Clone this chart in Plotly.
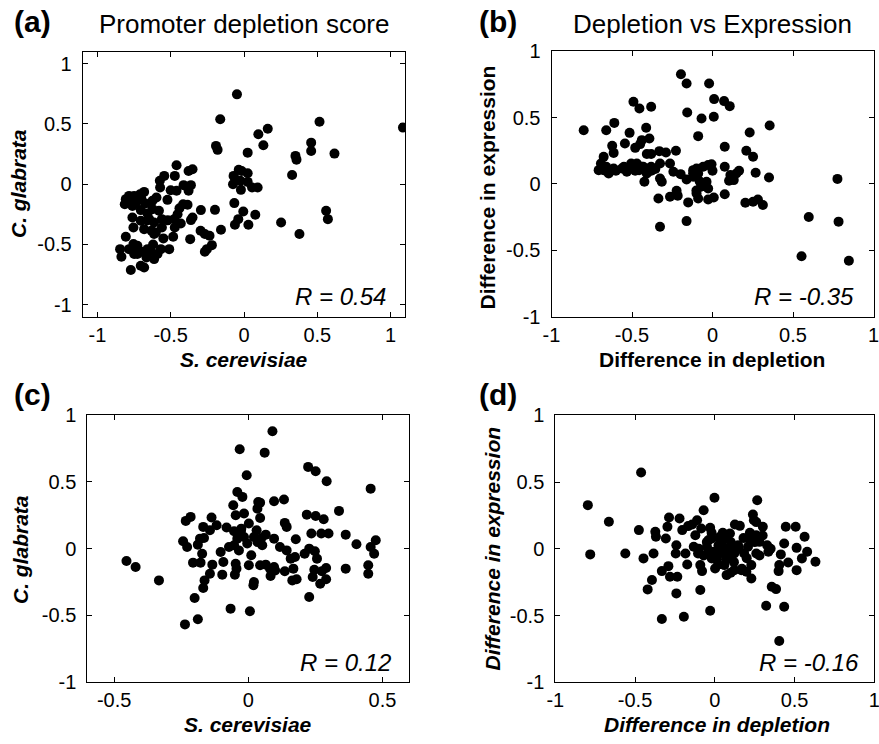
import plotly.graph_objects as go

W, H = 879, 744

# ---------------- data ----------------
a_x = [-0.048, -0.162, 0.515, 1.084, 0.162, 0.098, 0.132, -0.191, -0.180, 0.458, 0.458, 0.025, 0.617, 0.351,
       0.358, 0.328, -0.036, -0.016, 0.025, -0.071, -0.059, -0.025, 0.025, -0.075, -0.021, 0.055, 0.093, -0.066,
       -0.005, 0.077, -0.039, -0.062, 0.030, 0.253, 0.378, 0.560, 0.572, -0.157, -0.198, -0.460, -0.472, -0.544,
       -0.574, -0.412, -0.362, -0.351, -0.378, -0.378, -0.460, -0.522, -0.572, -0.597, -0.624, -0.681, -0.672,
       -0.624, -0.658, -0.704, -0.749, -0.784, -0.806, -0.813, -0.772, -0.761, -0.754, -0.704, -0.681, -0.613,
       -0.601, -0.613, -0.560, -0.560, -0.476, -0.472, -0.431, -0.453, -0.415, -0.385, -0.362, -0.351, -0.294,
       -0.296, -0.267, -0.235, -0.219, -0.253, -0.267, -0.367, -0.483, -0.510, -0.567, -0.590, -0.636, -0.658,
       -0.665, -0.613, -0.681, -0.704, -0.772, -0.749, -0.727, -0.754, -0.806, -0.845, -0.836, -0.784, -0.727,
       -0.727, -0.709, -0.647, -0.631, -0.761, -0.78, -0.74, -0.70, -0.66, -0.58, -0.52, -0.55, -0.70, -0.62,
       -0.44, -0.50]
a_y = [0.746, 0.539, 0.519, 0.47, 0.461, 0.414, 0.323, 0.318, 0.285, 0.345, 0.276, 0.262, 0.254, 0.235,
       0.204, 0.077, 0.119, 0.110, 0.091, 0.069, 0.041, 0.028, 0.019, 0.0, -0.047, -0.028, -0.028, -0.157,
       -0.227, -0.254, -0.290, -0.337, -0.337, -0.318, -0.414, -0.221, -0.290, -0.378, -0.213, 0.157, 0.069, 0.069,
       0.028, -0.008, -0.008, 0.124, 0.110, -0.055, -0.055, -0.130, -0.028, -0.110, -0.138, -0.064, -0.160,
       -0.207, -0.243, -0.215, -0.097, -0.097, -0.124, -0.166, -0.138, -0.276, -0.359, -0.304, -0.373, -0.318,
       -0.401, -0.414, -0.290, -0.359, -0.290, -0.359, -0.326, -0.249, -0.166, -0.171, -0.298, -0.276, -0.215,
       -0.387, -0.414, -0.428, -0.506, -0.539, -0.561, -0.456, -0.436, -0.539, -0.539, -0.580, -0.552, -0.539,
       -0.608, -0.622, -0.691, -0.677, -0.713, -0.580, -0.580, -0.497, -0.436, -0.539, -0.602, -0.539, -0.511,
       -0.138, -0.083, -0.290, -0.387, -0.180, -0.12, -0.16, -0.12, -0.30, -0.22, -0.30, -0.45, -0.56, -0.50,
       -0.20, -0.05]

b_x = [-0.800, -0.196, -0.161, -0.021, -0.491, -0.454, -0.381, -0.157, -0.068, 0.010, 0.072, 0.107, 0.008,
       -0.089, 0.355, 0.231, 0.076, 0.210, 0.252, -0.660, -0.610, -0.515, -0.412, -0.544, -0.623, -0.614, -0.449,
       -0.480, -0.392, -0.439, -0.408, -0.381, -0.330, -0.289, -0.227, -0.326, -0.264, -0.243, -0.676, -0.693,
       -0.707, -0.676, -0.645, -0.614, -0.563, -0.532, -0.501, -0.505, -0.470, -0.456, -0.439, -0.408, -0.423,
       -0.381, -0.355, -0.326, -0.315, -0.336, -0.326, -0.264, -0.223, -0.216, -0.198, -0.161, -0.151, -0.161,
       -0.120, -0.120, -0.099, -0.089, -0.058, -0.027, -0.006, 0.0, -0.099, -0.072, -0.037, -0.027, -0.089,
       -0.027, 0.008, 0.076, 0.076, 0.103, 0.111, 0.148, 0.165, 0.132, 0.204, 0.252, 0.282, 0.313, 0.268, 0.351,
       0.776, 0.598, 0.783, 0.553, 0.847, -0.66, -0.60, -0.55, -0.48, -0.43, -0.38, -0.12, -0.08, -0.10]
b_y = [0.405, 0.827, 0.757, 0.757, 0.619, 0.568, 0.581, 0.538, 0.493, 0.639, 0.624, 0.586, 0.506,
       0.360, 0.440, 0.388, 0.280, 0.250, 0.205, 0.405, 0.460, 0.385, 0.423, 0.305, 0.287, 0.234, 0.300,
       0.272, 0.343, 0.330, 0.225, 0.225, 0.247, 0.237, 0.250, 0.154, 0.154, 0.092, 0.204, 0.154,
       0.104, 0.104, 0.079, 0.117, 0.117, 0.092, 0.117, 0.154, 0.154, 0.104, 0.129, 0.079, 0.016,
       0.129, 0.112, 0.041, 0.016, -0.109, -0.322, -0.097, -0.051, -0.089, 0.074, 0.034, -0.139, -0.280,
       0.104, 0.054, 0.117, 0.079, 0.129, 0.142, 0.149, 0.099, -0.072, -0.021, 0.016, -0.034, -0.109,
       -0.117, -0.102, -0.077, 0.129, 0.024, 0.067, 0.079, 0.099, 0.029, -0.142, -0.134, -0.117, -0.159, 0.084, 0.049,
       0.038, -0.249, -0.284, -0.545, -0.578, 0.13, 0.10, 0.13, 0.10, 0.13, 0.10, 0.08, 0.02, -0.05]

c_x = [-0.454, -0.420, -0.333, -0.236, -0.188, -0.200, -0.066, 0.006, 0.090, -0.032, 0.061, -0.006, 0.223,
       0.251, 0.292, 0.456, -0.041, -0.022, -0.056, 0.037, 0.044, 0.034, 0.096, 0.133, 0.338, 0.218, 0.251,
       0.281, 0.044, -0.016, -0.047, -0.233, -0.215, -0.137, -0.118, -0.168, -0.143, -0.081, 0.002, 0.031,
       0.136, 0.143, 0.235, 0.272, 0.299, 0.363, 0.403, 0.475, 0.456, 0.469, 0.447, 0.447, 0.363, 0.177,
       -0.243, -0.228, -0.180, -0.165, -0.188, -0.172, -0.206, -0.178, -0.103, -0.072, -0.053, -0.041, -0.028,
       -0.016, -0.026, -0.053, -0.035, -0.004, 0.021, 0.034, 0.052, 0.065, 0.096, 0.118, 0.143, 0.158, 0.174,
       -0.134, -0.143, -0.163, -0.168, -0.097, -0.093, -0.047, -0.044, -0.050, 0.002, 0.011, 0.021, 0.019,
       0.044, 0.065, 0.081, 0.096, 0.100, 0.083, 0.136, 0.168, 0.164, 0.180, 0.210, 0.227, 0.248, 0.256,
       0.246, 0.240, 0.268, 0.290, 0.290, 0.274, 0.227, 0.049]
c_y = [-0.093, -0.138, -0.238, -0.568, -0.530, -0.370, -0.450, -0.470, 0.880, 0.745, 0.720, 0.550, 0.613,
       0.580, 0.505, 0.450, 0.425, 0.388, 0.325, 0.350, 0.345, 0.300, 0.355, 0.368, 0.283, 0.255, 0.245,
       0.220, 0.230, 0.263, 0.250, 0.208, 0.238, 0.233, 0.175, 0.163, 0.138, 0.158, 0.188, 0.138,
       0.193, 0.163, 0.113, 0.113, 0.113, 0.105, 0.033, 0.063, 0.013, -0.038, -0.125, -0.188, -0.150, 0.070,
       0.055, 0.013, 0.075, 0.080, 0.030, -0.038, -0.105, -0.105, -0.025, 0.013, 0.025, 0.075, 0.130,
       0.088, 0.150, 0.130, -0.013, 0.038, 0.088, 0.050, 0.025, 0.105, 0.075, 0.013, -0.013, -0.075, -0.063,
       -0.120, -0.188, -0.238, -0.295, -0.195, -0.100, -0.113, -0.150, -0.195, -0.125, -0.050, -0.250, -0.275,
       -0.125, -0.120, -0.150, -0.138, -0.163, -0.205, -0.170, -0.150, -0.238, -0.230, -0.038, 0.000, -0.020, -0.075,
       -0.158, -0.213, -0.263, -0.145, -0.230, -0.170, -0.363, 0.080]

d_x = [-0.796, -0.781, -0.664, -0.561, -0.462, -0.476, -0.447, -0.384, -0.373, -0.369, -0.394, -0.421, -0.332,
       -0.332, -0.287, -0.297, -0.307, -0.291, -0.281, -0.235, -0.241, -0.241, -0.245, -0.221, -0.204, -0.194,
       -0.184, -0.173, -0.167, -0.142, -0.111, -0.122, -0.132, -0.105, -0.070, -0.080, -0.091, -0.029, -0.085,
       -0.091, -0.049, -0.029, -0.002, -0.019, -0.039, -0.008, 0.023, 0.012, 0.033, 0.054, 0.060, 0.074, 0.095,
       0.105, 0.122, 0.126, 0.157, 0.146, 0.122, 0.167, 0.184, 0.208, 0.219, 0.198, 0.229, 0.229, 0.245, 0.239,
       0.266, 0.260, 0.280, 0.301, 0.260, 0.328, 0.336, 0.357, 0.384, 0.322, 0.414, 0.404, 0.400, 0.435, 0.445,
       0.507, 0.435, 0.404, 0.460, 0.513, 0.513, 0.563, 0.546, 0.579, 0.631, 0.002, 0.043, 0.085, -0.039, 0.064,
       -0.019, -0.05, 0.0, 0.03, 0.07, 0.10, 0.12, 0.15, 0.18, 0.20, -0.02, 0.05, 0.08, -0.07, 0.25, 0.28,
       0.30, 0.17, 0.10, -0.10, 0.02, 0.22, 0.26, 0.35, 0.04]
d_y = [0.327, -0.042, 0.202, -0.035, 0.571, 0.140, -0.072, -0.035, 0.127, 0.090, -0.234, -0.304, -0.167,
       -0.526, 0.234, 0.165, 0.077, -0.130, -0.209, -0.209, -0.334, 0.027, -0.035, 0.227, 0.140, -0.509,
       -0.035, -0.117, 0.170, 0.182, 0.214, 0.102, 0.015, -0.035, 0.289, -0.167, -0.309, -0.464, 0.152,
       -0.122, 0.015, 0.157, 0.382, 0.077, -0.035, -0.022, 0.027, -0.072, 0.090, -0.035, -0.122, -0.197, 0.115,
       0.027, -0.035, 0.182, 0.172, 0.027, -0.160, -0.160, -0.035, 0.015, 0.077, -0.172, -0.222, -0.122, 0.214, 0.257,
       0.364, 0.102, 0.052, 0.165, -0.035, 0.027, -0.022, -0.284, -0.302, -0.426, -0.042, -0.122, -0.167, 0.040, 0.165,
       0.165, -0.434, -0.691, -0.102, 0.007, -0.160, 0.090, -0.072, -0.022, -0.097, -0.147, 0.027, -0.060, 0.065, 0.077,
       -0.072, 0.05, -0.05, 0.08, -0.08, 0.05, -0.10, 0.0, 0.08, -0.07, 0.12, 0.12, 0.0, -0.05, 0.05, -0.05,
       0.10, -0.15, -0.18, 0.0, -0.12, 0.12, 0.20, 0.0, 0.0]

ticks_full = [-1, -0.5, 0, 0.5, 1]
ticks_full_text = ["-1", "-0.5", "0", "0.5", "1"]
ticks_half = [-0.5, 0, 0.5]
ticks_half_text = ["-0.5", "0", "0.5"]

titles = ["Promoter depletion score", "Depletion vs Expression"]
panel_labels = ["(a)", "(b)", "(c)", "(d)"]
r_texts = ["R = 0.54", "R = -0.35", "R = 0.12", "R = -0.16"]

# ---------------- layout helpers ----------------
FONT = "Liberation Sans, Arial, Helvetica, sans-serif"


def px_dom(x0, x1):
    return [x0 / W, x1 / W]


def py_dom(top, bottom):
    return [1 - bottom / H, 1 - top / H]


fig = go.Figure()

panels = [
    dict(x=a_x, y=a_y, xa="x", ya="y", xd=px_dom(82.7, 405.3), yd=py_dom(51.7, 316.7),
         xr=[-1.1, 1.1], yr=[-1.1, 1.1], xt=(ticks_full, ticks_full_text)),
    dict(x=b_x, y=b_y, xa="x2", ya="y2", xd=px_dom(551.5, 873.5), yd=py_dom(51.2, 316.7),
         xr=[-1, 1], yr=[-1, 1], xt=(ticks_full, ticks_full_text)),
    dict(x=c_x, y=c_y, xa="x3", ya="y3", xd=px_dom(87.3, 409.3), yd=py_dom(415.3, 682),
         xr=[-0.6, 0.6], yr=[-1, 1], xt=(ticks_half, ticks_half_text)),
    dict(x=d_x, y=d_y, xa="x4", ya="y4", xd=px_dom(555.3, 874.3), yd=py_dom(415.3, 682.3),
         xr=[-1, 1], yr=[-1, 1], xt=(ticks_full, ticks_full_text)),
]

layout = dict(
    width=W, height=H, margin=dict(l=0, r=0, t=0, b=0, pad=0), autosize=False,
    paper_bgcolor="white", plot_bgcolor="white", showlegend=False,
    font=dict(family=FONT, color="black", size=20),
)

for i, p in enumerate(panels):
    fig.add_trace(go.Scatter(x=p["x"], y=p["y"], xaxis=p["xa"], yaxis=p["ya"], mode="markers",
                             marker=dict(color="black", size=10, line=dict(width=0)),
                             hoverinfo="skip"))
    suffix = "" if i == 0 else str(i + 1)
    common = dict(showgrid=False, zeroline=False, showline=True, linecolor="black", linewidth=1,
                  mirror="ticks", ticks="inside", ticklen=5, tickwidth=1, tickcolor="black",
                  automargin=False, ticklabeloverflow="allow",
                  tickfont=dict(family=FONT, size=20, color="black"))
    layout["xaxis" + suffix] = dict(domain=p["xd"], range=p["xr"], anchor="y" + suffix,
                                    tickvals=p["xt"][0], ticktext=p["xt"][1], ticklabelstandoff=0, **common)
    layout["yaxis" + suffix] = dict(domain=p["yd"], range=p["yr"], anchor="x" + suffix,
                                    tickvals=ticks_full, ticktext=ticks_full_text, ticklabelstandoff=6, **common)

fig.update_layout(**layout)


def ann(text, xpx, ypx, size, xanchor="center", bold=False, italic=False, angle=0):
    t = text
    if italic:
        t = "<i>" + t + "</i>"
    if bold:
        t = "<b>" + t + "</b>"
    fig.add_annotation(text=t, x=xpx / W, y=1 - ypx / H, xref="paper", yref="paper",
                       xanchor=xanchor, yanchor="middle", showarrow=False, textangle=angle,
                       font=dict(family=FONT, size=size, color="black"))


# titles
ann(titles[0], 244, 24, 26)
ann(titles[1], 712.5, 24, 26)
# panel labels
ann(panel_labels[0], 32, 22, 30, bold=True)
ann(panel_labels[1], 498, 22, 30, bold=True)
ann(panel_labels[2], 32, 394, 30, bold=True)
ann(panel_labels[3], 498, 394, 30, bold=True)
# axis titles
ann("S. cerevisiae", 244, 359, 21, bold=True, italic=True)
ann("C. glabrata", 18, 184, 21, bold=True, italic=True, angle=-90)
ann("Difference in depletion", 712, 359, 21, bold=True)
ann("Difference in expression", 486.5, 188, 21, bold=True, angle=-90)
ann("S. cerevisiae", 248, 724, 21, bold=True, italic=True)
ann("C. glabrata", 20, 550, 21, bold=True, italic=True, angle=-90)
ann("Difference in depletion", 716.5, 724, 21, bold=True, italic=True)
ann("Difference in expression", 491.5, 549, 21, bold=True, italic=True, angle=-90)
# R values
ann(r_texts[0], 388, 296, 24, xanchor="right", italic=True)
ann(r_texts[1], 856, 296, 24, xanchor="right", italic=True)
ann(r_texts[2], 392.7, 662, 24, xanchor="right", italic=True)
ann(r_texts[3], 860.7, 662.5, 24, xanchor="right", italic=True)

fig.write_html(
    "out.html",
    config={"displayModeBar": False},
    post_script="document.body.style.margin='0';document.body.style.padding='0';"
                "document.body.style.overflow='hidden';",
)
